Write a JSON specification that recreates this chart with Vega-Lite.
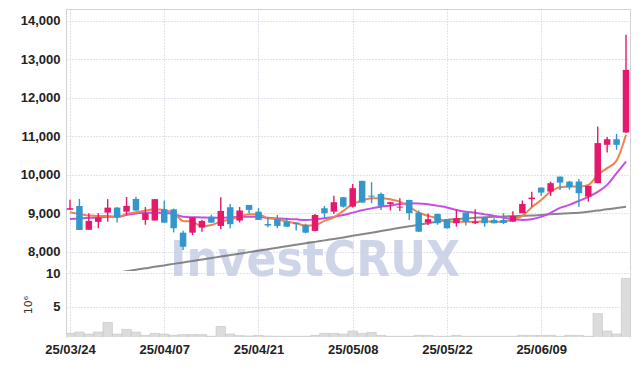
{
  "$schema": "https://vega.github.io/schema/vega-lite/v6.json",
  "background": "white",
  "padding": {"left": 20, "top": 9, "right": 8, "bottom": 5},
  "autosize": {"type": "pad"},
  "bounds": "flush",
  "spacing": 1,
  "config": {
    "view": {"stroke": null},
    "font": "Liberation Sans",
    "axis": {
      "labelFont": "Liberation Sans",
      "labelFontSize": 13,
      "labelFontWeight": "bold",
      "labelColor": "#222222",
      "gridColor": "#c2c7da",
      "gridDash": [1, 2],
      "gridWidth": 1,
      "domainColor": "#d3d3d3",
      "ticks": false,
      "tickSize": 0,
      "labelPadding": 6
    }
  },
  "datasets": {
    "p": [
      {"d": "25/03/24", "o": 9090, "c": 9130, "h": 9350, "l": 9090, "v": 1.09, "m5": 9025, "m20": 8850, "m60": 7265},
      {"d": "25/03/25", "o": 9190, "c": 8565, "h": 9370, "l": 8565, "v": 1.28, "m5": 8980, "m20": 8865, "m60": 7303},
      {"d": "25/03/26", "o": 8570, "c": 8800, "h": 9000, "l": 8570, "v": 0.98, "m5": 8940, "m20": 8880, "m60": 7340},
      {"d": "25/03/27", "o": 8775, "c": 8890, "h": 9000, "l": 8610, "v": 1.28, "m5": 8930, "m20": 8890, "m60": 7380},
      {"d": "25/03/28", "o": 9015, "c": 9145, "h": 9365, "l": 8780, "v": 2.7, "m5": 8930, "m20": 8905, "m60": 7418},
      {"d": "25/03/31", "o": 9145, "c": 8895, "h": 9160, "l": 8760, "v": 0.98, "m5": 8895, "m20": 8910, "m60": 7456},
      {"d": "25/04/01", "o": 9040, "c": 9190, "h": 9420, "l": 8955, "v": 1.67, "m5": 8980, "m20": 8955, "m60": 7494},
      {"d": "25/04/02", "o": 9370, "c": 9070, "h": 9430, "l": 9060, "v": 1.28, "m5": 9025, "m20": 8995, "m60": 7532},
      {"d": "25/04/03", "o": 8825, "c": 9000, "h": 9160, "l": 8700, "v": 0.79, "m5": 9070, "m20": 9010, "m60": 7570},
      {"d": "25/04/04", "o": 8810, "c": 9365, "h": 9365, "l": 8810, "v": 1.09, "m5": 9100, "m20": 9015, "m60": 7610},
      {"d": "25/04/07", "o": 9100, "c": 8755, "h": 9330, "l": 8755, "v": 0.98, "m5": 9085, "m20": 9015, "m60": 7645},
      {"d": "25/04/08", "o": 9100, "c": 8610, "h": 9120, "l": 8500, "v": 0.79, "m5": 9000, "m20": 8975, "m60": 7685},
      {"d": "25/04/09", "o": 8495, "c": 8130, "h": 8545, "l": 8045, "v": 0.9, "m5": 8800, "m20": 8910, "m60": 7722},
      {"d": "25/04/10", "o": 8495, "c": 8895, "h": 8900, "l": 8435, "v": 0.9, "m5": 8780, "m20": 8895, "m60": 7760},
      {"d": "25/04/11", "o": 8625, "c": 8800, "h": 8830, "l": 8520, "v": 0.9, "m5": 8660, "m20": 8890, "m60": 7798},
      {"d": "25/04/14", "o": 8910, "c": 8755, "h": 8960, "l": 8750, "v": 0.65, "m5": 8695, "m20": 8880, "m60": 7836},
      {"d": "25/04/15", "o": 8670, "c": 9060, "h": 9415, "l": 8585, "v": 2.1, "m5": 8780, "m20": 8880, "m60": 7875},
      {"d": "25/04/16", "o": 9155, "c": 8715, "h": 9240, "l": 8610, "v": 0.98, "m5": 8845, "m20": 8890, "m60": 7913},
      {"d": "25/04/17", "o": 8810, "c": 9070, "h": 9160, "l": 8760, "v": 0.75, "m5": 8910, "m20": 8905, "m60": 7950},
      {"d": "25/04/18", "o": 9215, "c": 9085, "h": 9215, "l": 9000, "v": 0.7, "m5": 8975, "m20": 8905, "m60": 7990},
      {"d": "25/04/21", "o": 9040, "c": 8825, "h": 9130, "l": 8825, "v": 0.8, "m5": 8975, "m20": 8905, "m60": 8027},
      {"d": "25/04/22", "o": 8720, "c": 8680, "h": 8895, "l": 8635, "v": 0.7, "m5": 8870, "m20": 8880, "m60": 8065},
      {"d": "25/04/23", "o": 8845, "c": 8670, "h": 8955, "l": 8610, "v": 0.65, "m5": 8845, "m20": 8865, "m60": 8105},
      {"d": "25/04/24", "o": 8780, "c": 8650, "h": 8880, "l": 8650, "v": 0.65, "m5": 8780, "m20": 8850, "m60": 8142},
      {"d": "25/04/25", "o": 8755, "c": 8715, "h": 8760, "l": 8550, "v": 0.65, "m5": 8740, "m20": 8840, "m60": 8180},
      {"d": "25/04/28", "o": 8695, "c": 8495, "h": 8730, "l": 8480, "v": 0.65, "m5": 8680, "m20": 8825, "m60": 8218},
      {"d": "25/04/29", "o": 8540, "c": 8955, "h": 8980, "l": 8530, "v": 0.79, "m5": 8695, "m20": 8840, "m60": 8256},
      {"d": "25/04/30", "o": 9130, "c": 9000, "h": 9190, "l": 8880, "v": 1.09, "m5": 8800, "m20": 8870, "m60": 8295},
      {"d": "25/05/02", "o": 9040, "c": 9285, "h": 9450, "l": 8980, "v": 1.09, "m5": 8895, "m20": 8905, "m60": 8333},
      {"d": "25/05/07", "o": 9415, "c": 9170, "h": 9420, "l": 9150, "v": 0.98, "m5": 9060, "m20": 8955, "m60": 8372},
      {"d": "25/05/08", "o": 9170, "c": 9650, "h": 9755, "l": 9150, "v": 1.43, "m5": 9235, "m20": 9015, "m60": 8412},
      {"d": "25/05/09", "o": 9840, "c": 9275, "h": 9840, "l": 9275, "v": 1.09, "m5": 9330, "m20": 9075, "m60": 8455},
      {"d": "25/05/12", "o": 9455, "c": 9430, "h": 9805, "l": 9260, "v": 1.23, "m5": 9390, "m20": 9125, "m60": 8495},
      {"d": "25/05/13", "o": 9500, "c": 9190, "h": 9540, "l": 9085, "v": 0.79, "m5": 9390, "m20": 9170, "m60": 8537},
      {"d": "25/05/14", "o": 9240, "c": 9285, "h": 9290, "l": 9070, "v": 0.65, "m5": 9365, "m20": 9200, "m60": 8578},
      {"d": "25/05/15", "o": 9145, "c": 9170, "h": 9390, "l": 9060, "v": 0.65, "m5": 9300, "m20": 9240, "m60": 8620},
      {"d": "25/05/16", "o": 9345, "c": 9000, "h": 9350, "l": 8825, "v": 0.65, "m5": 9170, "m20": 9260, "m60": 8660},
      {"d": "25/05/19", "o": 9015, "c": 8520, "h": 9070, "l": 8520, "v": 0.79, "m5": 9015, "m20": 9255, "m60": 8700},
      {"d": "25/05/20", "o": 8755, "c": 8845, "h": 8995, "l": 8695, "v": 0.79, "m5": 8930, "m20": 9230, "m60": 8742},
      {"d": "25/05/21", "o": 8980, "c": 8740, "h": 8990, "l": 8700, "v": 0.65, "m5": 8870, "m20": 9190, "m60": 8785},
      {"d": "25/05/22", "o": 8845, "c": 8610, "h": 8850, "l": 8600, "v": 0.65, "m5": 8780, "m20": 9150, "m60": 8825},
      {"d": "25/05/23", "o": 8740, "c": 8870, "h": 9100, "l": 8650, "v": 0.79, "m5": 8780, "m20": 9085, "m60": 8845},
      {"d": "25/05/26", "o": 9015, "c": 8780, "h": 9020, "l": 8680, "v": 0.65, "m5": 8780, "m20": 9040, "m60": 8862},
      {"d": "25/05/27", "o": 8740, "c": 8780, "h": 9100, "l": 8720, "v": 0.65, "m5": 8780, "m20": 9010, "m60": 8880},
      {"d": "25/05/28", "o": 8895, "c": 8740, "h": 8900, "l": 8650, "v": 0.65, "m5": 8790, "m20": 8970, "m60": 8897},
      {"d": "25/05/29", "o": 8825, "c": 8740, "h": 8870, "l": 8730, "v": 0.65, "m5": 8780, "m20": 8930, "m60": 8905},
      {"d": "25/05/30", "o": 8825, "c": 8745, "h": 9000, "l": 8720, "v": 0.65, "m5": 8780, "m20": 8880, "m60": 8915},
      {"d": "25/06/02", "o": 8780, "c": 8930, "h": 9050, "l": 8770, "v": 0.65, "m5": 8845, "m20": 8845, "m60": 8923},
      {"d": "25/06/04", "o": 9000, "c": 9240, "h": 9330, "l": 9000, "v": 0.79, "m5": 8930, "m20": 8825, "m60": 8932},
      {"d": "25/06/05", "o": 9365, "c": 9405, "h": 9560, "l": 9170, "v": 0.79, "m5": 9155, "m20": 8845, "m60": 8940},
      {"d": "25/06/09", "o": 9665, "c": 9535, "h": 9670, "l": 9450, "v": 0.79, "m5": 9345, "m20": 8905, "m60": 8955},
      {"d": "25/06/10", "o": 9560, "c": 9780, "h": 9820, "l": 9450, "v": 0.79, "m5": 9560, "m20": 9010, "m60": 8970},
      {"d": "25/06/11", "o": 9950, "c": 9795, "h": 9950, "l": 9605, "v": 0.65, "m5": 9675, "m20": 9140, "m60": 8985},
      {"d": "25/06/12", "o": 9820, "c": 9675, "h": 9840, "l": 9610, "v": 0.79, "m5": 9690, "m20": 9215, "m60": 9000},
      {"d": "25/06/13", "o": 9820, "c": 9520, "h": 9885, "l": 9170, "v": 0.79, "m5": 9690, "m20": 9320, "m60": 9013},
      {"d": "25/06/16", "o": 9430, "c": 9710, "h": 9715, "l": 9300, "v": 0.65, "m5": 9735, "m20": 9425, "m60": 9040},
      {"d": "25/06/17", "o": 9780, "c": 10820, "h": 11250, "l": 9780, "v": 4.0, "m5": 9995, "m20": 9555, "m60": 9070},
      {"d": "25/06/18", "o": 10775, "c": 10920, "h": 10975, "l": 10575, "v": 1.43, "m5": 10170, "m20": 9735, "m60": 9100},
      {"d": "25/06/19", "o": 10920, "c": 10775, "h": 11060, "l": 10650, "v": 0.98, "m5": 10365, "m20": 10040, "m60": 9135},
      {"d": "25/06/20", "o": 11095, "c": 12720, "h": 13630, "l": 11080, "v": 9.2, "m5": 11035, "m20": 10340, "m60": 9170}
    ]
  },
  "vconcat": [
    {
      "width": 564,
      "height": 262,
      "data": {"name": "p"},
      "resolve": {"axis": {"y": "independent"}},
      "layer": [
        {
          "data": {"values": [{"d": "25/04/29", "y": 7370, "t": "InvestCRUX"}]},
          "mark": {"type": "text", "font": "DejaVu Sans Condensed", "fontWeight": "bold", "fontSize": 49, "color": "#c6cee6", "opacity": 0.85, "align": "center", "baseline": "alphabetic"},
          "encoding": {
            "x": {"field": "d", "type": "ordinal", "scale": {"type": "point", "padding": 0.424}, "axis": {"orient": "top", "labels": false, "domain": true, "grid": true, "title": null, "values": ["25/03/24", "25/04/07", "25/04/21", "25/05/08", "25/05/22", "25/06/09"]}},
            "y": {"field": "y", "type": "quantitative", "scale": {"domain": [7500, 14300], "zero": false, "nice": false}, "axis": null},
            "text": {"field": "t"}
          }
        },
        {
          "mark": {"type": "line", "color": "#7a7a7a", "strokeWidth": 2, "clip": true, "interpolate": "monotone", "opacity": 0.9},
          "encoding": {
            "x": {"field": "d", "type": "ordinal"},
            "y": {"field": "m60", "type": "quantitative", "scale": {"domain": [7500, 14300], "zero": false, "nice": false}, "axis": {"orient": "left", "values": [8000, 9000, 10000, 11000, 12000, 13000, 14000], "labelExpr": "format(datum.value, ',')", "grid": true, "domain": true, "title": null}}
          }
        },
        {
          "mark": {"type": "line", "color": "#c64fe3", "strokeWidth": 2, "interpolate": "monotone"},
          "encoding": {
            "x": {"field": "d", "type": "ordinal"},
            "y": {"field": "m20", "type": "quantitative", "scale": {"domain": [7500, 14300], "zero": false, "nice": false}, "axis": null}
          }
        },
        {
          "mark": {"type": "line", "color": "#ef8350", "strokeWidth": 2, "interpolate": "monotone"},
          "encoding": {
            "x": {"field": "d", "type": "ordinal"},
            "y": {"field": "m5", "type": "quantitative", "scale": {"domain": [7500, 14300], "zero": false, "nice": false}, "axis": null}
          }
        },
        {
          "mark": {"type": "rule", "strokeWidth": 1.4},
          "encoding": {
            "x": {"field": "d", "type": "ordinal"},
            "y": {"field": "l", "type": "quantitative", "scale": {"domain": [7500, 14300], "zero": false, "nice": false}, "axis": {"orient": "right", "labels": false, "grid": false, "domain": true, "title": null}},
            "y2": {"field": "h"},
            "color": {"condition": {"test": "datum.c >= datum.o", "value": "#e5196c"}, "value": "#3497cb"}
          }
        },
        {
          "mark": {"type": "bar", "size": 6.5},
          "encoding": {
            "x": {"field": "d", "type": "ordinal"},
            "y": {"field": "o", "type": "quantitative", "scale": {"domain": [7500, 14300], "zero": false, "nice": false}, "axis": null},
            "y2": {"field": "c"},
            "color": {"condition": {"test": "datum.c >= datum.o", "value": "#e5196c"}, "value": "#3497cb"}
          }
        }
      ]
    },
    {
      "width": 564,
      "height": 65,
      "data": {"name": "p"},
      "resolve": {"axis": {"y": "independent"}},
      "layer": [
        {
          "mark": {"type": "bar", "size": 9.4, "fill": "#dcdcdc", "stroke": "#c2c2c2", "strokeWidth": 0.6, "clip": true},
          "encoding": {
            "x": {"field": "d", "type": "ordinal", "scale": {"type": "point", "padding": 0.424}, "axis": {"orient": "bottom", "labels": true, "domain": false, "grid": true, "title": null, "labelAngle": 0, "labelOverlap": false, "labelPadding": 6, "values": ["25/03/24", "25/04/07", "25/04/21", "25/05/08", "25/05/22", "25/06/09"]}},
            "y": {"field": "v", "type": "quantitative", "scale": {"domain": [0.55, 10.15], "zero": false, "nice": false}, "axis": {"orient": "left", "values": [5, 10], "grid": true, "domain": true, "title": "10⁶", "titleFont": "DejaVu Sans", "titleFontSize": 11, "titleFontWeight": "normal", "titleColor": "#333333", "titlePadding": 12}}
          }
        },
        {
          "mark": {"type": "bar", "size": 9.4, "opacity": 0, "clip": true},
          "encoding": {
            "x": {"field": "d", "type": "ordinal"},
            "y": {"field": "v", "type": "quantitative", "scale": {"domain": [0.55, 10.15], "zero": false, "nice": false}, "axis": {"orient": "right", "labels": false, "grid": false, "domain": true, "title": null}}
          }
        }
      ]
    }
  ]
}
